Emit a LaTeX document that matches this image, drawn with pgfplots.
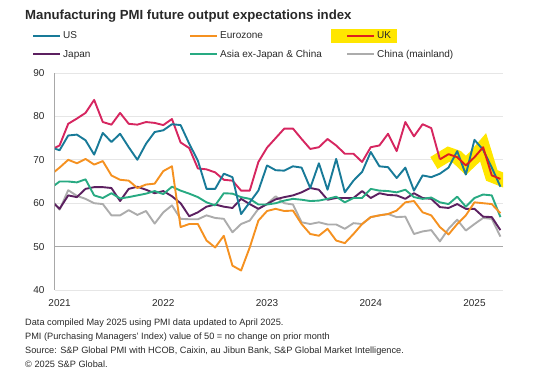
\documentclass[border=0pt]{standalone}
\usepackage{pgfplots}
\pgfplotsset{compat=1.18}
\usepackage{pgfplotstable}
\usepackage{fontspec}
\setmainfont{Liberation Sans}
\definecolor{usc}{RGB}{24,122,152}
\definecolor{ezc}{RGB}{245,145,32}
\definecolor{ukc}{RGB}{214,38,96}
\definecolor{ukred}{RGB}{222,30,30}
\definecolor{hly}{RGB}{255,230,0}
\definecolor{jpc}{RGB}{92,32,96}
\definecolor{asc}{RGB}{40,170,130}
\definecolor{cnc}{RGB}{172,172,172}
\definecolor{gridc}{RGB}{230,230,230}
\definecolor{axc}{RGB}{168,168,168}
\definecolor{txtc}{RGB}{40,40,40}

\pgfplotstableread{
m  us   ez   uk   jp   as   cn
-1 72.9 66.6 72.3 60.6 63.5 61.0
0  72.2 68.2 73.3 58.7 65.0 58.5
1  75.6 70.0 78.3 61.8 65.0 63.0
2  75.8 69.2 79.5 61.4 64.8 61.7
3  74.5 70.2 80.8 63.3 65.5 61.0
4  71.2 68.9 83.8 63.7 61.8 60.0
5  76.2 69.7 78.7 63.7 61.2 59.8
6  74.1 66.4 78.1 63.5 62.3 57.2
7  76.0 65.4 80.8 60.5 61.1 57.2
8  72.9 65.2 78.3 63.3 61.4 58.4
9  70.0 63.5 78.1 63.8 61.8 57.3
10 73.7 64.3 78.7 63.1 62.2 58.2
11 76.4 64.5 78.5 62.3 62.8 55.3
12 76.8 67.4 78.0 62.8 62.1 57.9
13 78.2 68.5 79.4 61.6 63.8 59.5
14 78.0 54.5 74.0 60.0 62.9 56.4
15 73.7 55.2 72.7 57.0 62.2 56.3
16 69.8 55.2 68.0 57.9 61.4 56.3
17 63.3 51.4 67.8 59.2 60.2 57.2
18 63.3 49.8 67.1 59.7 59.5 56.6
19 66.8 52.5 65.4 59.2 62.3 56.4
20 66.0 45.6 65.2 58.9 62.2 53.3
21 57.5 44.5 62.9 61.0 61.4 55.2
22 60.2 49.8 62.9 59.8 61.0 56.0
23 62.9 56.0 69.5 58.7 59.7 58.7
24 68.7 58.2 72.8 59.8 59.7 59.8
25 67.6 58.7 75.0 60.9 60.0 61.6
26 67.5 58.2 77.2 61.4 60.6 60.0
27 68.5 58.3 77.2 61.8 61.0 59.7
28 68.2 55.2 74.8 62.5 60.8 55.6
29 63.5 52.9 72.5 63.5 60.5 55.2
30 69.2 52.5 72.9 63.1 60.6 55.6
31 63.1 54.1 74.8 60.8 61.0 55.1
32 70.2 51.4 73.3 61.2 61.5 55.1
33 62.5 50.8 71.4 61.2 60.2 54.1
34 65.2 52.9 71.4 61.2 61.2 55.4
35 67.2 55.2 69.5 62.8 61.2 55.2
36 71.8 56.8 72.9 61.2 63.3 56.8
37 68.5 57.2 73.3 62.3 62.9 57.2
38 68.3 57.5 76.0 61.9 62.8 57.5
39 65.8 58.3 72.0 61.8 62.5 56.8
40 68.2 60.2 78.7 61.0 63.1 56.9
41 62.9 60.5 75.4 62.3 61.4 52.9
42 66.4 57.9 78.2 61.2 61.0 53.5
43 66.0 57.2 77.3 61.0 61.3 53.8
44 66.8 54.5 70.1 59.1 60.2 51.2
45 68.2 52.8 71.3 58.9 59.8 54.1
46 72.0 55.2 70.6 59.8 61.5 56.2
47 66.6 57.2 68.7 58.7 59.2 53.7
48 74.6 60.2 70.6 58.7 61.2 55.2
49 72.3 60.0 72.9 56.9 62.0 56.6
50 68.2 59.8 66.4 56.8 61.8 56.4
51 63.8 57.7 65.6 53.8 56.8 52.3
}\pmi

\begin{document}
\begin{tikzpicture}[x=1pt,y=1pt]
\useasboundingbox (0,0) rectangle (552,380);
\node[anchor=base west, inner sep=0pt, text=txtc, font=\bfseries\fontsize{13.2}{15}\selectfont] at (25,360.5) {Manufacturing PMI future output expectations index};
\begin{axis}[
  at={(55pt,90pt)}, anchor=south west,
  scale only axis, width=448pt, height=217pt,
  xmin=-0.53, xmax=51.3, ymin=40, ymax=90,
  xtick={0,12,24,36,48}, xticklabels={2021,2022,2023,2024,2025},
  ytick={40,50,60,70,80,90},
  major tick length=0pt,
  ymajorgrids, grid style={draw=gridc, line width=0.9pt},
  extra y ticks={50}, extra y tick labels={},
  extra y tick style={grid=major, major grid style={draw=axc, line width=0.9pt}},
  axis lines*=left, axis line style={-},
  x axis line style={draw=gridc, line width=0.9pt},
  y axis line style={draw=axc, line width=1pt},
  tick label style={font=\fontsize{10}{12}\selectfont, text=txtc},
  /pgf/number format/assume math mode=true,
  yticklabel style={xshift=-7pt},
  xticklabel style={yshift=-6pt},
  legend columns=3,
  legend cell align=left,
  legend style={at={(axis description cs:0,1)}, anchor=south west, xshift=-23pt, yshift=12pt,
    draw=none, fill=none, inner sep=0pt, row sep=6pt,
    font=\fontsize{10}{12}\selectfont, text=txtc},
  legend image code/.code={\draw[#1, line width=2pt] (0pt,0pt) -- (27pt,0pt);},
]
\addlegendimage{usc}\addlegendentry{\makebox[124pt][l]{US}}
\addlegendimage{ezc}\addlegendentry{\makebox[124pt][l]{Eurozone}}
\addlegendimage{legend image code/.code={\fill[hly, overlay] (-16pt,-6.5pt) rectangle (49pt,7pt); \draw[ukred, line width=2pt] (0pt,0pt) -- (27pt,0pt);}}\addlegendentry{\makebox[124pt][l]{UK}}
\addlegendimage{jpc}\addlegendentry{\makebox[124pt][l]{Japan}}
\addlegendimage{asc}\addlegendentry{\makebox[124pt][l]{Asia ex-Japan \& China}}
\addlegendimage{cnc}\addlegendentry{\makebox[124pt][l]{China (mainland)}}

\addplot[forget plot, draw=hly, line width=14pt, line join=miter, miter limit=3, line cap=rect, restrict x to domain=44:51] table[x=m, y=uk] {\pmi};
\addplot[forget plot, cnc, line width=1.9pt, line join=round] table[x=m, y=cn] {\pmi};
\addplot[forget plot, jpc, line width=1.9pt, line join=round] table[x=m, y=jp] {\pmi};
\addplot[forget plot, asc, line width=1.9pt, line join=round] table[x=m, y=as] {\pmi};
\addplot[forget plot, ezc, line width=1.9pt, line join=round] table[x=m, y=ez] {\pmi};
\addplot[forget plot, ukc, line width=1.9pt, line join=round, restrict x to domain=-1:44] table[x=m, y=uk] {\pmi};
\addplot[forget plot, usc, line width=1.9pt, line join=round] table[x=m, y=us] {\pmi};
\addplot[forget plot, ukred, line width=1.9pt, line join=round, restrict x to domain=44:51] table[x=m, y=uk] {\pmi};
\end{axis}
\begin{scope}[every node/.style={anchor=base west, inner sep=0pt, text=txtc, font=\fontsize{9.2}{11}\selectfont}]
\node at (25,54) {Data compiled May 2025 using PMI data updated to April 2025.};
\node at (25,40) {PMI (Purchasing Managers' Index) value of 50 = no change on prior month};
\node at (25,26) {Source: S\&P Global PMI with HCOB, Caixin, au Jibun Bank, S\&P Global Market Intelligence.};
\node at (25,12) {\textcopyright{} 2025 S\&P Global.};
\end{scope}
\end{tikzpicture}
\end{document}
